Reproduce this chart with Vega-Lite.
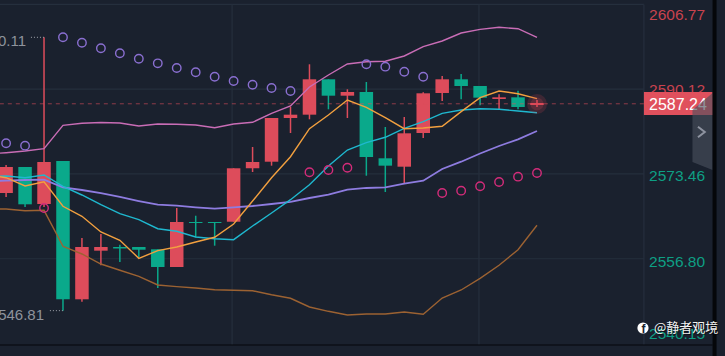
{"$schema":"https://vega.github.io/schema/vega-lite/v6.json","width":725,"height":356,"autosize":{"type":"none"},"padding":0,"background":"#1a212e","config":{"view":{"stroke":null},"text":{"font":"Liberation Sans"}},
"datasets":{
"candles":[
{"i":0,"open":2569.71,"close":2574.82,"high":2575.21,"low":2568.93,"dir":"up"},
{"i":1,"open":2574.82,"close":2567.49,"high":2574.82,"low":2566.96,"dir":"down"},
{"i":2,"open":2567.55,"close":2575.80,"high":2600.30,"low":2566.96,"dir":"up"},
{"i":3,"open":2576.00,"close":2548.83,"high":2576.00,"low":2546.59,"dir":"down"},
{"i":4,"open":2548.83,"close":2559.10,"high":2560.87,"low":2548.36,"dir":"up"},
{"i":5,"open":2558.38,"close":2559.10,"high":2561.66,"low":2555.51,"dir":"up"},
{"i":6,"open":2559.10,"close":2558.81,"high":2559.56,"low":2556.16,"dir":"down"},
{"i":7,"open":2559.10,"close":2558.57,"high":2559.10,"low":2557.14,"dir":"down"},
{"i":8,"open":2558.65,"close":2555.18,"high":2558.65,"low":2551.05,"dir":"down"},
{"i":9,"open":2555.18,"close":2564.02,"high":2566.77,"low":2555.18,"dir":"up"},
{"i":10,"open":2564.02,"close":2563.82,"high":2565.25,"low":2561.01,"dir":"down"},
{"i":11,"open":2564.02,"close":2563.82,"high":2564.02,"low":2559.36,"dir":"down"},
{"i":12,"open":2564.07,"close":2574.57,"high":2574.57,"low":2564.07,"dir":"up"},
{"i":13,"open":2574.57,"close":2575.80,"high":2578.75,"low":2573.84,"dir":"up"},
{"i":14,"open":2575.86,"close":2584.45,"high":2584.45,"low":2575.08,"dir":"up"},
{"i":15,"open":2584.45,"close":2585.10,"high":2586.67,"low":2581.50,"dir":"up"},
{"i":16,"open":2585.10,"close":2592.05,"high":2595.00,"low":2584.19,"dir":"up"},
{"i":17,"open":2592.05,"close":2588.83,"high":2592.05,"low":2586.16,"dir":"down"},
{"i":18,"open":2588.83,"close":2589.56,"high":2590.09,"low":2584.45,"dir":"up"},
{"i":19,"open":2589.56,"close":2576.79,"high":2591.52,"low":2573.11,"dir":"down"},
{"i":20,"open":2576.53,"close":2575.08,"high":2582.68,"low":2569.91,"dir":"down"},
{"i":21,"open":2574.88,"close":2581.44,"high":2584.64,"low":2571.62,"dir":"up"},
{"i":22,"open":2581.50,"close":2589.30,"high":2589.50,"low":2580.52,"dir":"up"},
{"i":23,"open":2589.36,"close":2592.05,"high":2592.70,"low":2587.79,"dir":"up"},
{"i":24,"open":2592.05,"close":2590.73,"high":2593.09,"low":2588.12,"dir":"down"},
{"i":25,"open":2590.73,"close":2588.44,"high":2590.73,"low":2586.94,"dir":"down"},
{"i":26,"open":2588.18,"close":2588.51,"high":2589.10,"low":2586.22,"dir":"up"},
{"i":27,"open":2588.51,"close":2586.61,"high":2589.81,"low":2586.16,"dir":"down"},
{"i":28,"open":2587.00,"close":2587.39,"high":2587.98,"low":2586.61,"dir":"up"}],
"lines":[
{"i":-1,"upper":2577.38,"mid":2572.07,"slow":2572.95,"fast":2573.25,"lower":2566.57},
{"i":0,"upper":2577.63,"mid":2572.13,"slow":2573.05,"fast":2572.72,"lower":2566.57},
{"i":1,"upper":2577.96,"mid":2572.27,"slow":2572.72,"fast":2571.09,"lower":2566.24},
{"i":2,"upper":2578.42,"mid":2572.33,"slow":2573.25,"fast":2571.93,"lower":2566.31},
{"i":3,"upper":2583.01,"mid":2570.83,"slow":2571.03,"fast":2567.10,"lower":2559.24},
{"i":4,"upper":2583.41,"mid":2570.30,"slow":2569.32,"fast":2565.14,"lower":2557.73},
{"i":5,"upper":2583.56,"mid":2569.71,"slow":2567.41,"fast":2562.05,"lower":2555.76},
{"i":6,"upper":2583.47,"mid":2568.93,"slow":2565.65,"fast":2560.42,"lower":2554.53},
{"i":7,"upper":2582.88,"mid":2568.14,"slow":2564.47,"fast":2556.88,"lower":2553.35},
{"i":8,"upper":2583.27,"mid":2567.41,"slow":2562.70,"fast":2558.38,"lower":2551.64},
{"i":9,"upper":2583.21,"mid":2567.22,"slow":2562.19,"fast":2559.10,"lower":2551.31},
{"i":10,"upper":2583.07,"mid":2566.90,"slow":2561.07,"fast":2560.09,"lower":2551.05},
{"i":11,"upper":2582.54,"mid":2566.63,"slow":2560.73,"fast":2561.01,"lower":2550.72},
{"i":12,"upper":2583.27,"mid":2566.90,"slow":2560.54,"fast":2563.62,"lower":2550.60},
{"i":13,"upper":2583.60,"mid":2567.16,"slow":2563.23,"fast":2568.14,"lower":2550.52},
{"i":14,"upper":2585.37,"mid":2567.55,"slow":2565.78,"fast":2572.72,"lower":2549.73},
{"i":15,"upper":2586.81,"mid":2567.95,"slow":2568.40,"fast":2576.84,"lower":2549.03},
{"i":16,"upper":2590.54,"mid":2568.73,"slow":2571.34,"fast":2582.35,"lower":2547.32},
{"i":17,"upper":2592.90,"mid":2569.38,"slow":2575.02,"fast":2585.04,"lower":2546.47},
{"i":18,"upper":2595.06,"mid":2570.36,"slow":2578.16,"fast":2587.98,"lower":2545.75},
{"i":19,"upper":2595.51,"mid":2570.70,"slow":2579.60,"fast":2586.55,"lower":2545.94},
{"i":20,"upper":2595.59,"mid":2570.83,"slow":2580.66,"fast":2584.51,"lower":2545.94},
{"i":21,"upper":2596.63,"mid":2571.54,"slow":2582.42,"fast":2582.35,"lower":2546.33},
{"i":22,"upper":2598.46,"mid":2572.13,"slow":2583.72,"fast":2582.48,"lower":2545.88},
{"i":23,"upper":2599.58,"mid":2574.43,"slow":2585.37,"fast":2582.82,"lower":2549.08},
{"i":24,"upper":2601.15,"mid":2575.86,"slow":2586.02,"fast":2585.69,"lower":2550.66},
{"i":25,"upper":2601.87,"mid":2577.47,"slow":2586.27,"fast":2588.44,"lower":2552.95},
{"i":26,"upper":2602.27,"mid":2578.95,"slow":2586.16,"fast":2589.75,"lower":2555.51},
{"i":27,"upper":2601.99,"mid":2580.26,"slow":2585.82,"fast":2589.22,"lower":2558.57},
{"i":28,"upper":2600.30,"mid":2581.89,"slow":2585.49,"fast":2588.24,"lower":2563.37}],
"sar":[
{"i":0,"p":2579.48,"side":"above"},{"i":1,"p":2579.01,"side":"above"},{"i":2,"p":2566.77,"side":"below"},{"i":3,"p":2600.30,"side":"above"},{"i":4,"p":2599.24,"side":"above"},{"i":5,"p":2598.14,"side":"above"},{"i":6,"p":2597.16,"side":"above"},{"i":7,"p":2596.10,"side":"above"},{"i":8,"p":2595.19,"side":"above"},{"i":9,"p":2594.27,"side":"above"},{"i":10,"p":2593.43,"side":"above"},{"i":11,"p":2592.56,"side":"above"},{"i":12,"p":2591.72,"side":"above"},{"i":13,"p":2590.99,"side":"above"},{"i":14,"p":2590.34,"side":"above"},{"i":15,"p":2589.75,"side":"above"},{"i":16,"p":2573.78,"side":"below"},{"i":17,"p":2574.23,"side":"below"},{"i":18,"p":2574.68,"side":"below"},{"i":19,"p":2595.00,"side":"above"},{"i":20,"p":2594.53,"side":"above"},{"i":21,"p":2593.54,"side":"above"},{"i":22,"p":2592.56,"side":"above"},{"i":23,"p":2569.71,"side":"below"},{"i":24,"p":2570.17,"side":"below"},{"i":25,"p":2571.03,"side":"below"},{"i":26,"p":2571.87,"side":"below"},{"i":27,"p":2572.92,"side":"below"},{"i":28,"p":2573.64,"side":"below"}],
"hgrid":[{"p":2606.77,"a":-0.33,"b":33.64},{"p":2590.12,"a":-0.33,"b":33.64},{"p":2573.46,"a":-0.33,"b":33.64},{"p":2556.80,"a":-0.33,"b":33.64}],
"vgrid":[{"i":11.92,"a":2539.85,"b":2606.77},{"i":24.94,"a":2539.85,"b":2606.77},{"i":33.64,"a":2539.85,"b":2606.77}],
"panel":[{"i":36.2,"top":2586.02,"bot":2575.80},{"i":37.26,"top":2589.36,"bot":2574.23}],
"chev":[{"i":36.49,"p":2582.74},{"i":36.85,"p":2581.70},{"i":36.49,"p":2580.66}]
},
"encoding":{"x":{"field":"i","type":"quantitative","axis":null,"scale":{"domain":[-0.3217,37.916],"nice":false,"zero":false,"padding":0}}},
"layer":[
{"data":{"name":"hgrid"},"mark":{"type":"rule","color":"#252f3d","strokeWidth":1.2},"encoding":{"x":{"field":"a","type":"quantitative","axis":null,"scale":{"domain":[-0.3217,37.916],"nice":false,"zero":false,"padding":0}},"x2":{"field":"b"},"y":{"field":"p","type":"quantitative","axis":null,"scale":{"domain":[2537.69,2607.63],"nice":false,"zero":false}}}},
{"data":{"name":"vgrid"},"mark":{"type":"rule","color":"#252f3d","strokeWidth":1.2},"encoding":{"y":{"field":"a","type":"quantitative","axis":null,"scale":{"domain":[2537.69,2607.63],"nice":false,"zero":false}},"y2":{"field":"b"}}},
{"data":{"name":"candles"},"mark":{"type":"rule","strokeWidth":1.5},"encoding":{"y":{"field":"low","type":"quantitative","axis":null,"scale":{"domain":[2537.69,2607.63],"nice":false,"zero":false}},"y2":{"field":"high"},"color":{"field":"dir","type":"nominal","legend":null,"scale":{"domain":["up","down","above","below"],"range":["#dd4c5b","#0aa98b","#8a6fd1","#d42c7a"]}}}},
{"data":{"name":"candles"},"mark":{"type":"bar","size":13.5},"encoding":{"y":{"field":"open","type":"quantitative","axis":null,"scale":{"domain":[2537.69,2607.63],"nice":false,"zero":false}},"y2":{"field":"close"},"color":{"field":"dir","type":"nominal","legend":null,"scale":{"domain":["up","down","above","below"],"range":["#dd4c5b","#0aa98b","#8a6fd1","#d42c7a"]}}}},
{"data":{"values":[{"p":2587.24,"a":-0.33,"b":33.64}]},"mark":{"type":"rule","color":"#dd4c5b","opacity":0.6,"strokeWidth":1,"strokeDash":[4,4]},"encoding":{"x":{"field":"a","type":"quantitative","axis":null,"scale":{"domain":[-0.3217,37.916],"nice":false,"zero":false,"padding":0}},"x2":{"field":"b"},"y":{"field":"p","type":"quantitative","axis":null,"scale":{"domain":[2537.69,2607.63],"nice":false,"zero":false}}}},
{"data":{"name":"lines"},"mark":{"type":"line","color":"#c96db6","strokeWidth":1.4},"encoding":{"y":{"field":"upper","type":"quantitative","axis":null,"scale":{"domain":[2537.69,2607.63],"nice":false,"zero":false}}}},
{"data":{"name":"lines"},"mark":{"type":"line","color":"#9c6232","strokeWidth":1.4},"encoding":{"y":{"field":"lower","type":"quantitative","axis":null,"scale":{"domain":[2537.69,2607.63],"nice":false,"zero":false}}}},
{"data":{"name":"lines"},"mark":{"type":"line","color":"#8e7ce0","strokeWidth":1.8},"encoding":{"y":{"field":"mid","type":"quantitative","axis":null,"scale":{"domain":[2537.69,2607.63],"nice":false,"zero":false}}}},
{"data":{"name":"lines"},"mark":{"type":"line","color":"#1fb8cf","strokeWidth":1.4},"encoding":{"y":{"field":"slow","type":"quantitative","axis":null,"scale":{"domain":[2537.69,2607.63],"nice":false,"zero":false}}}},
{"data":{"name":"lines"},"mark":{"type":"line","color":"#f2a03f","strokeWidth":1.4},"encoding":{"y":{"field":"fast","type":"quantitative","axis":null,"scale":{"domain":[2537.69,2607.63],"nice":false,"zero":false}}}},
{"data":{"name":"sar"},"mark":{"type":"point","shape":"circle","filled":false,"size":72,"strokeWidth":1.4,"opacity":1},"encoding":{"y":{"field":"p","type":"quantitative","axis":null,"scale":{"domain":[2537.69,2607.63],"nice":false,"zero":false}},"color":{"field":"side","type":"nominal","legend":null,"scale":{"domain":["up","down","above","below"],"range":["#dd4c5b","#0aa98b","#8a6fd1","#d42c7a"]}}}},
{"data":{"values":[{"i":28,"p":2587.2}]},"mark":{"type":"point","shape":"circle","filled":true,"size":400,"color":"#e04455","opacity":0.18},"encoding":{"y":{"field":"p","type":"quantitative","axis":null,"scale":{"domain":[2537.69,2607.63],"nice":false,"zero":false}}}},
{"data":{"values":[{"i":28,"p":2587.2}]},"mark":{"type":"point","shape":"circle","filled":true,"size":170,"color":"#e04455","opacity":0.2},"encoding":{"y":{"field":"p","type":"quantitative","axis":null,"scale":{"domain":[2537.69,2607.63],"nice":false,"zero":false}}}},
{"data":{"values":[{"a":1.31,"b":2,"p":2600.3},{"a":2.31,"b":3,"p":2546.6}]},"mark":{"type":"rule","color":"#a0a5ad","strokeWidth":1,"strokeDash":[1,2]},"encoding":{"x":{"field":"a","type":"quantitative","axis":null,"scale":{"domain":[-0.3217,37.916],"nice":false,"zero":false,"padding":0}},"x2":{"field":"b"},"y":{"field":"p","type":"quantitative","axis":null,"scale":{"domain":[2537.69,2607.63],"nice":false,"zero":false}}}},
{"data":{"values":[{"i":1.05,"p":2600.11,"t":"2600.11"}]},"mark":{"type":"text","align":"right","baseline":"middle","dy":2.5,"fontSize":15,"color":"#8e939c"},"encoding":{"y":{"field":"p","type":"quantitative","axis":null,"scale":{"domain":[2537.69,2607.63],"nice":false,"zero":false}},"text":{"field":"t"}}},
{"data":{"values":[{"i":2.0,"p":2546.81,"t":"2546.81"}]},"mark":{"type":"text","align":"right","baseline":"middle","dy":5,"fontSize":15,"color":"#8e939c"},"encoding":{"y":{"field":"p","type":"quantitative","axis":null,"scale":{"domain":[2537.69,2607.63],"nice":false,"zero":false}},"text":{"field":"t"}}},
{"data":{"values":[{"i":33.91,"p":2606.77,"t":"2606.77"}]},"mark":{"type":"text","align":"left","baseline":"middle","dy":10.5,"fontSize":15.5,"color":"#c8434f"},"encoding":{"y":{"field":"p","type":"quantitative","axis":null,"scale":{"domain":[2537.69,2607.63],"nice":false,"zero":false}},"text":{"field":"t"}}},
{"data":{"values":[{"i":33.91,"p":2590.12,"t":"2590.12"}]},"mark":{"type":"text","align":"left","baseline":"middle","dy":1,"fontSize":15.5,"color":"#c8434f"},"encoding":{"y":{"field":"p","type":"quantitative","axis":null,"scale":{"domain":[2537.69,2607.63],"nice":false,"zero":false}},"text":{"field":"t"}}},
{"data":{"values":[{"i":33.91,"p":2573.46,"t":"2573.46"}]},"mark":{"type":"text","align":"left","baseline":"middle","dy":2,"fontSize":15.5,"color":"#0e9f84"},"encoding":{"y":{"field":"p","type":"quantitative","axis":null,"scale":{"domain":[2537.69,2607.63],"nice":false,"zero":false}},"text":{"field":"t"}}},
{"data":{"values":[{"i":33.91,"p":2556.80,"t":"2556.80"}]},"mark":{"type":"text","align":"left","baseline":"middle","dy":3,"fontSize":15.5,"color":"#0e9f84"},"encoding":{"y":{"field":"p","type":"quantitative","axis":null,"scale":{"domain":[2537.69,2607.63],"nice":false,"zero":false}},"text":{"field":"t"}}},
{"data":{"values":[{"i":33.91,"p":2540.15,"t":"2540.15"}]},"mark":{"type":"text","align":"left","baseline":"middle","dy":-9,"fontSize":15.5,"color":"#0e9f84"},"encoding":{"y":{"field":"p","type":"quantitative","axis":null,"scale":{"domain":[2537.69,2607.63],"nice":false,"zero":false}},"text":{"field":"t"}}},
{"data":{"values":[{"a":33.64,"b":37.26,"top":2589.56,"bot":2585.04}]},"mark":{"type":"rect","color":"#e0505d"},"encoding":{"x":{"field":"a","type":"quantitative","axis":null,"scale":{"domain":[-0.3217,37.916],"nice":false,"zero":false,"padding":0}},"x2":{"field":"b"},"y":{"field":"top","type":"quantitative","axis":null,"scale":{"domain":[2537.69,2607.63],"nice":false,"zero":false}},"y2":{"field":"bot"}}},
{"data":{"values":[{"i":33.91,"p":2587.24,"t":"2587.24"}]},"mark":{"type":"text","align":"left","baseline":"middle","dy":1,"fontSize":16,"fontWeight":500,"color":"#ffffff"},"encoding":{"y":{"field":"p","type":"quantitative","axis":null,"scale":{"domain":[2537.69,2607.63],"nice":false,"zero":false}},"text":{"field":"t"}}},
{"data":{"name":"panel"},"mark":{"type":"area","color":"#4a505e","opacity":0.62},"encoding":{"y":{"field":"top","type":"quantitative","axis":null,"scale":{"domain":[2537.69,2607.63],"nice":false,"zero":false}},"y2":{"field":"bot"}}},
{"data":{"name":"chev"},"mark":{"type":"line","color":"#8e93a0","strokeWidth":2},"encoding":{"order":{"field":"p","sort":"descending"},"y":{"field":"p","type":"quantitative","axis":null,"scale":{"domain":[2537.69,2607.63],"nice":false,"zero":false}}}},
{"data":{"values":[{"a":-0.33,"b":37.26,"p":2539.85}]},"mark":{"type":"rule","color":"#05070a","strokeWidth":1.2},"encoding":{"x":{"field":"a","type":"quantitative","axis":null,"scale":{"domain":[-0.3217,37.916],"nice":false,"zero":false,"padding":0}},"x2":{"field":"b"},"y":{"field":"p","type":"quantitative","axis":null,"scale":{"domain":[2537.69,2607.63],"nice":false,"zero":false}}}},
{"data":{"values":[{"a":37.26,"b":37.47,"top":2607.63,"bot":2537.69}]},"mark":{"type":"rect","color":"#05070a"},"encoding":{"x":{"field":"a","type":"quantitative","axis":null,"scale":{"domain":[-0.3217,37.916],"nice":false,"zero":false,"padding":0}},"x2":{"field":"b"},"y":{"field":"top","type":"quantitative","axis":null,"scale":{"domain":[2537.69,2607.63],"nice":false,"zero":false}},"y2":{"field":"bot"}}},
{"data":{"values":[{"i":33.59,"p":2543.19}]},"mark":{"type":"point","shape":"circle","filled":true,"size":125,"color":"#ffffff","opacity":1},"encoding":{"y":{"field":"p","type":"quantitative","axis":null,"scale":{"domain":[2537.69,2607.63],"nice":false,"zero":false}}}},
{"data":{"values":[{"i":33.62,"p":2543.19,"t":"f"}]},"mark":{"type":"text","align":"center","baseline":"middle","fontSize":12,"fontWeight":"bold","color":"#1a212e","dy":1},"encoding":{"y":{"field":"p","type":"quantitative","axis":null,"scale":{"domain":[2537.69,2607.63],"nice":false,"zero":false}},"text":{"field":"t"}}},
{"data":{"values":[{"i":34.17,"p":2543.19,"t":"@静者观境"}]},"mark":{"type":"text","align":"left","baseline":"middle","fontSize":13,"font":"Noto Sans CJK SC","color":"#000000","opacity":0.55,"dx":1,"dy":1},"encoding":{"y":{"field":"p","type":"quantitative","axis":null,"scale":{"domain":[2537.69,2607.63],"nice":false,"zero":false}},"text":{"field":"t"}}},
{"data":{"values":[{"i":34.17,"p":2543.19,"t":"@静者观境"}]},"mark":{"type":"text","align":"left","baseline":"middle","fontSize":13,"font":"Noto Sans CJK SC","color":"#f2f2f2"},"encoding":{"y":{"field":"p","type":"quantitative","axis":null,"scale":{"domain":[2537.69,2607.63],"nice":false,"zero":false}},"text":{"field":"t"}}}
]}
